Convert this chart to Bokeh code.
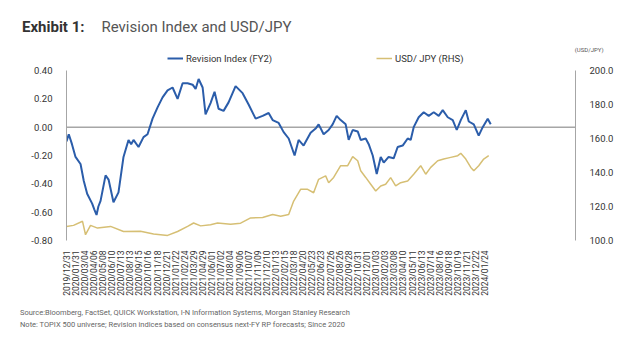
from bokeh.plotting import figure
from bokeh.layouts import column
from bokeh.models import (Range1d, LinearAxis, FixedTicker, PrintfTickFormatter,
                          Span, Legend, LegendItem, Title, Div)
from bokeh.embed import file_html
from bokeh.resources import INLINE
import math

# ---------------- data ----------------
tick_labels = [
    "2019/12/31", "2020/01/31", "2020/03/04", "2020/04/06", "2020/05/08", "2020/06/10",
    "2020/07/13", "2020/08/13", "2020/09/15", "2020/10/16", "2020/11/18", "2020/12/21",
    "2021/01/22", "2021/02/24", "2021/03/29", "2021/04/29", "2021/06/01", "2021/07/02",
    "2021/08/04", "2021/09/06", "2021/10/07", "2021/11/09", "2021/12/10", "2022/01/13",
    "2022/02/15", "2022/03/18", "2022/04/20", "2022/05/23", "2022/06/23", "2022/07/26",
    "2022/08/26", "2022/09/28", "2022/10/31", "2022/12/01", "2023/01/03", "2023/02/03",
    "2023/03/08", "2023/04/10", "2023/05/11", "2023/06/13", "2023/07/14", "2023/08/16",
    "2023/09/18", "2023/10/19", "2023/11/21", "2023/12/22", "2024/01/24",
]

# position in tick-label periods (~23 business days each)
rev_t = [0.0, 0.25, 0.6, 0.99, 1.54, 1.9, 2.27, 2.82, 3.05, 3.30, 3.5, 3.74, 4.29, 4.62,
         5.16, 5.71, 6.26, 6.81, 7.1, 7.36, 7.91, 8.46, 8.90, 9.45, 10.0, 10.55, 11.10,
         11.65, 12.20, 12.75, 13.30, 13.85, 14.18, 14.51, 14.95, 15.27, 15.82, 16.26,
         16.70, 17.25, 17.80, 18.57, 19.34, 20.0, 20.77, 21.54, 22.2, 22.64, 23.30,
         23.85, 24.40, 25.05, 25.49, 26.04, 26.81, 27.36, 27.69, 28.24, 28.79, 29.23,
         29.67, 30.11, 30.66, 30.99, 31.43, 31.98, 32.31, 32.86, 33.19, 33.63, 34.07,
         34.51, 34.84, 35.38, 35.93, 36.37, 36.92, 37.47, 37.80, 38.13, 38.68, 39.23,
         39.78, 40.33, 40.88, 41.32, 41.87, 42.42, 42.86, 43.30, 43.85, 44.18, 44.73,
         45.27, 45.71, 46.26, 46.59]
rev_v = [-0.10, -0.05, -0.12, -0.21, -0.26, -0.38, -0.47, -0.54, -0.58, -0.62, -0.56, -0.52,
         -0.34, -0.37, -0.53, -0.46, -0.21, -0.09, -0.12, -0.09, -0.14, -0.07, -0.05, 0.06,
         0.14, 0.21, 0.26, 0.28, 0.20, 0.31, 0.31, 0.30, 0.27, 0.34, 0.28, 0.09, 0.17,
         0.25, 0.13, 0.115, 0.175, 0.29, 0.24, 0.16, 0.06, 0.08, 0.10, 0.05, 0.03, -0.035,
         -0.08, -0.20, -0.09, -0.13, -0.04, -0.01, 0.02, -0.05, -0.02, 0.02, 0.08, 0.05,
         0.02, -0.09, -0.02, -0.03, -0.09, -0.08, -0.12, -0.20, -0.33, -0.21, -0.25, -0.21,
         -0.22, -0.14, -0.13, -0.08, -0.09, 0.00, 0.07, 0.105, 0.08, 0.105, 0.08, 0.12,
         0.07, 0.05, -0.02, 0.05, 0.12, 0.04, 0.02, -0.06, 0.00, 0.06, 0.02]

fx_t = [0.0, 0.77, 1.76, 2.09, 2.64, 3.41, 4.84, 6.26, 8.13, 9.56, 11.10, 12.20, 13.30,
        13.96, 14.73, 15.82, 16.59, 18.02, 19.12, 20.22, 21.54, 22.64, 23.52, 24.40,
        24.95, 25.71, 26.48, 27.14, 27.69, 28.46, 28.79, 29.34, 30.11, 30.88, 31.43,
        31.98, 32.31, 32.86, 33.41, 33.96, 34.51, 35.05, 35.60, 36.15, 36.70, 37.47,
        38.13, 38.90, 39.45, 40.0, 40.77, 41.43, 42.20, 42.97, 43.30, 43.85, 44.40,
        44.73, 45.27, 45.82, 46.37]
fx_v = [108.3, 108.9, 111.3, 103.4, 108.9, 107.3, 108.3, 105.3, 105.5, 103.8, 103.0,
        105.3, 108.3, 110.3, 108.6, 109.3, 110.3, 109.6, 110.2, 113.3, 113.5, 115.3,
        114.3, 115.3, 123.2, 130.1, 130.1, 128.1, 136.0, 138.0, 134.0, 137.1, 144.0,
        144.0, 149.3, 146.9, 141.0, 137.1, 133.1, 129.1, 132.1, 133.1, 137.0, 132.1,
        134.0, 135.0, 139.0, 144.0, 139.0, 143.0, 146.9, 147.9, 148.9, 149.9, 151.3,
        147.9, 143.0, 141.0, 144.0, 147.9, 149.9]

left_ticks = [-0.8, -0.6, -0.4, -0.2, 0.0, 0.2, 0.4]
right_ticks = [100, 120, 140, 160, 180, 200]

# ---------------- styling ----------------
FONT = "Roboto"
BLUE = "#2B5DAA"
GOLD = "#D6BF74"
AXIS_GRAY = "#A6A6A6"
TXT = "#333333"

header = Div(
    text=('<div style="font-family:Roboto;line-height:18px;margin:0;padding:18px 0 0 22px;'
          'white-space:nowrap;">'
          '<span style="font-size:15px;font-weight:bold;color:#333333;">Exhibit 1:</span>'
          '<span style="display:inline-block;width:17px;"></span>'
          '<span style="font-size:15px;color:#555555;">Revision Index and USD/JPY</span></div>'),
    width=640, height=36, margin=0)

# plot area extends a little above the top tick (room for the legend); axis lines are bounded
p = figure(width=640, height=264, x_range=Range1d(0, 55.9), y_range=Range1d(-0.8, 0.52),
           output_backend="svg", toolbar_location=None, margin=0,
           min_border_left=66, min_border_right=65, min_border_top=17, min_border_bottom=60)
p.outline_line_color = None
p.xgrid.visible = False
p.ygrid.visible = False
p.background_fill_color = "white"

# left axis
ya = p.yaxis[0]
ya.ticker = FixedTicker(ticks=left_ticks)
ya.formatter = PrintfTickFormatter(format="%.2f")
ya.bounds = (left_ticks[0], left_ticks[-1])
ya.axis_line_color = AXIS_GRAY
ya.major_tick_line_color = None
ya.minor_tick_line_color = None
ya.major_label_standoff = 8
ya.major_label_text_font = FONT
ya.major_label_text_font_size = "9.5px"
ya.major_label_text_color = TXT

# right axis
p.extra_y_ranges = {"fx": Range1d(100, 210)}
ra = LinearAxis(y_range_name="fx", ticker=FixedTicker(ticks=right_ticks),
                formatter=PrintfTickFormatter(format="%.1f"),
                bounds=(right_ticks[0], right_ticks[-1]))
ra.axis_line_color = AXIS_GRAY
ra.major_tick_line_color = None
ra.minor_tick_line_color = None
ra.major_label_standoff = 8
ra.major_label_text_font = FONT
ra.major_label_text_font_size = "9.5px"
ra.major_label_text_color = TXT
p.add_layout(ra, "right")

# bottom axis
xa = p.xaxis[0]
xa.ticker = FixedTicker(ticks=list(range(len(tick_labels))))
xa.major_label_overrides = {i: s for i, s in enumerate(tick_labels)}
xa.major_label_orientation = math.pi / 2
xa.axis_line_color = None
xa.major_tick_line_color = None
xa.minor_tick_line_color = None
xa.major_label_standoff = 4
xa.major_label_text_font = FONT
xa.major_label_text_font_size = "8.5px"
xa.major_label_text_color = TXT

# zero line
p.add_layout(Span(location=0, dimension="width", line_color=AXIS_GRAY, line_width=1.5,
                  level="underlay"))

r_fx = p.line(fx_t, fx_v, y_range_name="fx", line_color=GOLD, line_width=1.5)
r_rev = p.line(rev_t, rev_v, line_color=BLUE, line_width=2)

legend = Legend(items=[LegendItem(label="Revision Index (FY2)", renderers=[r_rev]),
                       LegendItem(label="USD/ JPY (RHS)", renderers=[r_fx])],
                location=(101, 176), orientation="horizontal", padding=0, margin=0, spacing=0,
                glyph_width=16, glyph_height=12, label_height=12, label_width=190,
                label_standoff=3, label_text_font=FONT, label_text_font_size="9.5px",
                label_text_color=TXT, border_line_alpha=0, background_fill_alpha=0)
p.add_layout(legend)

p.add_layout(Title(text="(USD/JPY)", align="right", offset=-28, text_font=FONT,
                   text_font_size="6px", text_font_style="normal", text_color="#555555",
                   standoff=1), "above")

footer = Div(
    text=('<div style="font-family:Roboto;font-size:7.5px;line-height:12px;color:#666666;'
          'margin:0;padding:7px 0 0 20px;white-space:nowrap;">'
          'Source:Bloomberg, FactSet, QUICK Workstation, I-N Information Systems, Morgan Stanley Research<br>'
          'Note: TOPIX 500 universe; Revision indices based on consensus next-FY RP forecasts; Since 2020'
          '</div>'),
    width=640, height=60, margin=0)

layout = column(header, p, footer, spacing=0, margin=0)

open("out.html", "w").write(file_html(layout, INLINE))
